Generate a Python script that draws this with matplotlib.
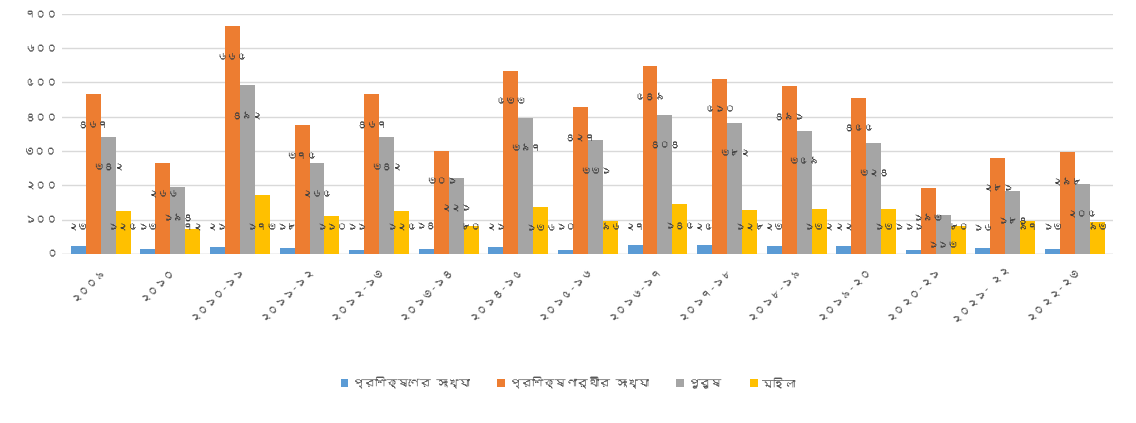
import matplotlib

matplotlib.use("Agg")

import matplotlib.pyplot as plt
import numpy as np
from matplotlib import font_manager
from matplotlib.ft2font import FT2Font


categories = [
    "২০০৯", "২০১০", "২০১০-১১", "২০১১-১২", "২০১২-১৩", "২০১৩-১৪", "২০১৪-১৫", "২০১৫-১৬",
    "২০১৬-১৭", "২০১৭-১৮", "২০১৮-১৯", "২০১৯-২০", "২০২০-২১", "২০২১- ২২", "২০২২-২৩",
]
trainings = [23, 13, 21, 18, 11, 14, 21, 10, 27, 25, 23, 22, 11, 16, 13]
trainees = [467, 266, 665, 375, 467, 301, 533, 427, 549, 510, 491, 455, 193, 281, 298]
men = [342, 194, 492, 265, 342, 221, 397, 331, 404, 382, 359, 324, 113, 184, 205]
women = [125, 72, 173, 110, 125, 80, 136, 96, 145, 128, 132, 131, 80, 97, 93]
series_names = ["প্রশিক্ষণের সংখ্যা", "প্রশিক্ষণার্থীর সংখ্যা", "পুরুষ", "মহিলা"]
y_ticks = [0, 100, 200, 300, 400, 500, 600, 700]

colors = ["#5B9BD5", "#ED7D31", "#A5A5A5", "#FFC000"]
BN_DIGITS = str.maketrans("0123456789", "০১২৩৪৫৬৭৮৯")


def find_bengali_font():
    """Return the name of an installed font that has Bengali glyphs, if any."""
    for entry in font_manager.fontManager.ttflist:
        try:
            if 0x0995 in FT2Font(entry.fname).get_charmap():
                return entry.name
        except Exception:
            continue
    return None


bn_font = find_bengali_font()
families = [bn_font, "DejaVu Sans"] if bn_font else ["Noto Sans", "DejaVu Sans"]
plt.rcParams["font.family"] = families


def bn(value):
    return str(value).translate(BN_DIGITS)


fig = plt.figure(figsize=(11.36, 4.23), dpi=100)
ax = fig.add_axes([0.055, 0.40, 0.925, 0.567])

x = np.arange(len(categories))
width = 0.215
all_series = [trainings, trainees, men, women]

# orange and gray labels sit just inside the bar tops, blue and yellow ones
# share a row near the bottom like in the original sheet
for i, (values, name, color) in enumerate(zip(all_series, series_names, colors)):
    pos = x + (i - 1.5) * width
    ax.bar(pos, values, width, color=color, label=name, zorder=2)
    for px, v in zip(pos, values):
        if i in (1, 2):
            ax.annotate(bn(v), (px, v), xytext=(0, -22), textcoords="offset points",
                        ha="center", va="center", fontsize=7.5, color="#404040", zorder=3)
        else:
            ax.text(px, 78, bn(v), ha="center", va="center", fontsize=7.5,
                    color="#404040", zorder=3)

ax.set_xlim(-0.55, len(categories) - 0.45)
ax.set_ylim(0, 700)
ax.set_yticks(y_ticks)
ax.set_yticklabels([bn(t) for t in y_ticks], fontsize=8, color="#595959")
ax.set_xticks(x)
ax.set_xticklabels(categories, rotation=45, ha="right", rotation_mode="anchor",
                   fontsize=8, color="#595959")
ax.tick_params(axis="both", length=0)
ax.tick_params(axis="x", pad=8)
ax.grid(axis="y", color="#D9D9D9", linewidth=1, zorder=0)
for spine in ax.spines.values():
    spine.set_visible(False)
ax.axhline(0, color="#D9D9D9", linewidth=1, zorder=1)

fig.legend(loc="center", bbox_to_anchor=(0.5, 0.095), ncol=4, frameon=False,
           fontsize=8, handlelength=0.7, handleheight=0.7, columnspacing=2.5,
           handletextpad=0.4, labelcolor="#595959")

fig.savefig("out.png", dpi=100, facecolor="white")
